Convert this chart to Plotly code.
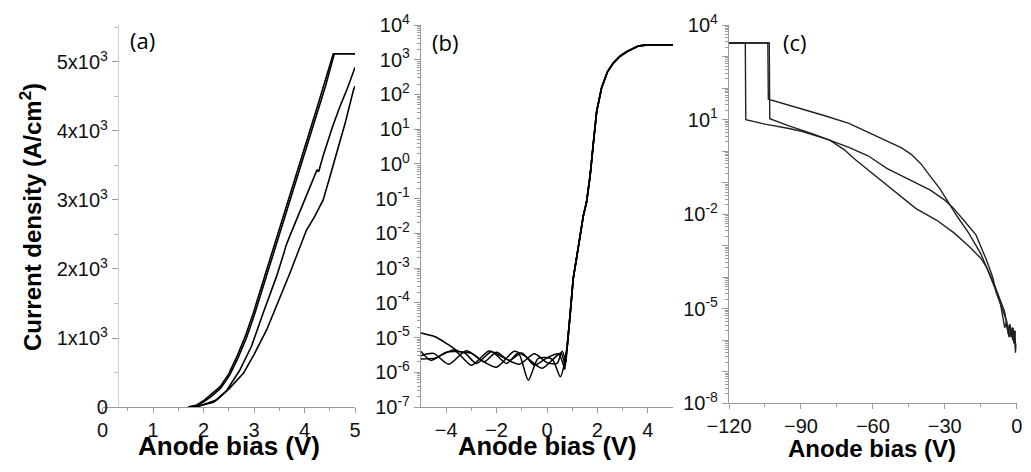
import plotly.graph_objects as go

# page is shown with the browser's default 8px body margin, so the figure is
# sized to fit inside the window and positions below are page pixels
PAGE_W, PAGE_H, BODY = 1031, 472, 8
W, H = PAGE_W - 2 * BODY, PAGE_H - 2 * BODY

# ---------------- Panel (a): linear J-V ----------------
a1_v = [1.7, 1.87, 2.0, 2.15, 2.33, 2.5, 2.66, 2.83, 2.99, 3.25, 3.45, 3.7, 3.91, 4.1, 4.24, 4.4, 4.57, 5.0]
a1_j = [0, 29, 90, 180, 294, 480, 729, 1030, 1370, 1986, 2450, 3040, 3540, 3990, 4320, 4700, 5120, 5120]
a2_v = [1.7, 1.88, 2.02, 2.18, 2.35, 2.52, 2.68, 2.85, 3.01, 3.27, 3.47, 3.72, 3.93, 4.12, 4.26, 4.42, 4.59, 5.0]
a2_j = [0, 25, 82, 170, 280, 465, 705, 1000, 1340, 1950, 2420, 3000, 3500, 3950, 4280, 4660, 5120, 5120]
a3_v = [1.7, 1.9, 2.2, 2.45, 2.72, 2.95, 3.18, 3.45, 3.6, 3.63, 3.71, 3.9, 4.11, 4.25, 4.28, 4.37, 4.55, 4.70, 4.85, 4.97, 5.0]
a3_j = [0, 15, 70, 230, 536, 880, 1358, 1900, 2250, 2330, 2480, 2820, 3180, 3440, 3410, 3640, 4050, 4352, 4620, 4884, 4920]
a4_v = [1.7, 1.9, 2.26, 2.5, 2.79, 3.0, 3.25, 3.5, 3.71, 3.9, 4.04, 4.2, 4.31, 4.37, 4.5, 4.64, 4.8, 4.97, 5.0]
a4_j = [0, 10, 100, 260, 488, 760, 1116, 1560, 1938, 2300, 2565, 2760, 2903, 3000, 3330, 3676, 4100, 4594, 4650]
a_ytick_vals = [0, 1000, 2000, 3000, 4000, 5000]
a_ytick_text = ["0", "1x10<sup>3</sup>", "2x10<sup>3</sup>", "3x10<sup>3</sup>", "4x10<sup>3</sup>", "5x10<sup>3</sup>"]

# ---------------- Panel (b): log J-V ----------------
bA_v = [-5, -4.44, -3.92, -3.5, -3.0, -2.5, -2.0, -1.5, -1.0, -0.5, 0.0, 0.45, 0.7]
bA_j = [1.35e-5, 1.05e-5, 6.3e-6, 4.0e-6, 3.5e-6, 2.0e-6, 3.8e-6, 2.2e-6, 3.6e-6, 1.6e-6, 2.6e-6, 3.4e-6, 1.2e-6]
bB_v = [-5, -4.6, -4.0, -3.3, -2.8, -2.2, -1.6, -1.14, -0.74, -0.35, 0.2, 0.53, 0.7]
bB_j = [4.0e-6, 2.2e-6, 3.8e-6, 3.7e-6, 1.8e-6, 3.9e-6, 1.8e-6, 3.6e-6, 5.9e-7, 2.5e-6, 2.4e-6, 7.4e-7, 2.0e-6]
bC_v = [-5, -4.5, -3.9, -3.2, -2.5, -2.0, -1.3, -0.9, -0.2, 0.3, 0.55, 0.72]
bC_j = [3.0e-6, 3.5e-6, 1.7e-6, 4.2e-6, 2.0e-6, 1.4e-6, 4.0e-6, 3.0e-6, 1.3e-6, 2.6e-6, 3.6e-6, 1.5e-6]
bD_v = [-5, -4.4, -3.7, -3.0, -2.3, -1.7, -1.1, -0.5, 0.0, 0.4, 0.6, 0.75]
bD_j = [2.4e-6, 2.6e-6, 4.4e-6, 1.6e-6, 4.1e-6, 2.6e-6, 1.7e-6, 3.4e-6, 1.9e-6, 1.8e-6, 4.0e-6, 2.0e-6]
b_rise_v = [0.8, 0.85, 0.95, 1.04, 1.18, 1.3, 1.44, 1.57, 1.71, 1.84, 1.97, 2.17, 2.4, 2.63, 2.9, 3.16, 3.4, 3.62, 3.9, 5.0]
b_rise_j = [5e-6, 1.3e-5, 8e-5, 5e-4, 2.1e-3, 8e-3, 3.2e-2, 8e-2, 0.45, 4, 32, 160, 450, 800, 1260, 1700, 2140, 2500, 2630, 2630]
b_decades = list(range(-7, 5))

# ---------------- Panel (c): reverse bias ----------------
cA_v = [-120, -103.8, -103.6, -90, -80, -70, -62, -55, -48, -44, -40, -36, -32, -29, -25, -20, -15, -12.6, -10, -7, -5.8,
        -5.0, -4.2, -3.5, -2.8, -2.0, -1.5, -1.0, -0.6]
cA_j = [2.7e3, 2.7e3, 44, 22.4, 13.2, 7.6, 4.0, 2.24, 1.26, 0.79, 0.40, 0.158, 0.063, 0.0275, 8.9e-3, 2.5e-3, 5.6e-4, 2.1e-4, 6.3e-5, 1.8e-5, 5.5e-6,
        2.5e-6, 4.0e-6, 1.6e-6, 3.2e-6, 1.26e-6, 2.5e-6, 1.0e-6, 2.0e-6]
cB_v = [-120, -103.2, -103, -95, -85, -78, -70, -62, -54, -45, -36, -30, -26.5, -22, -17, -12.6, -10, -8.5, -6, -4.3,
        -3.8, -3.0, -2.4, -1.8, -1.2, -0.8, -0.4]
cB_j = [2.7e3, 2.7e3, 10.7, 6.3, 3.5, 2.24, 1.32, 0.71, 0.28, 0.126, 0.0575, 0.028, 0.0158, 6.3e-3, 2.2e-3, 3.5e-4, 1.0e-4, 3.2e-5, 1.0e-5, 4.3e-6,
        2.0e-6, 3.2e-6, 1.26e-6, 2.5e-6, 7.9e-7, 2.0e-6, 5.0e-7]
cC_v = [-120, -113.2, -113, -105, -95, -89, -78, -72, -67, -60, -50, -42, -33.5, -26, -19.6, -15, -12.6, -10, -7, -5,
        -4.2, -3.2, -2.5, -1.6, -1.0, -0.5, -0.3]
cC_j = [2.7e3, 2.7e3, 10, 7.2, 5.2, 4.1, 2.24, 1.12, 0.51, 0.19, 0.046, 0.015, 6.5e-3, 2.5e-3, 9.1e-4, 4.0e-4, 2.1e-4, 7.9e-5, 2.0e-5, 7.9e-6,
        3.2e-6, 1.26e-6, 2.5e-6, 1.0e-6, 1.6e-6, 4.0e-7, 7.9e-7]
c_decades = list(range(-8, 5))
c_labeled = [-8, -5, -2, 1, 4]
c_xticks = [-120, -90, -60, -30, 0]


def fx(p):
    return (p - BODY) / W


def fy(p):
    return 1 - (p - BODY) / H


LINE = dict(color="black", width=1.6)
fig = go.Figure()

for v, j in [(a1_v, a1_j), (a2_v, a2_j), (a3_v, a3_j), (a4_v, a4_j)]:
    fig.add_trace(go.Scatter(x=v, y=j, mode="lines", line=LINE, xaxis="x", yaxis="y", showlegend=False))

for v, j in [(bA_v, bA_j), (bB_v, bB_j), (bC_v, bC_j), (bD_v, bD_j)]:
    fig.add_trace(go.Scatter(x=v, y=j, mode="lines", line=dict(color="black", width=1.5, shape="spline", smoothing=0.7),
                             xaxis="x2", yaxis="y2", showlegend=False))
    fig.add_trace(go.Scatter(x=v[-1:] + b_rise_v, y=j[-1:] + b_rise_j, mode="lines", line=LINE,
                             xaxis="x2", yaxis="y2", showlegend=False))

for v, j in [(cA_v, cA_j), (cB_v, cB_j), (cC_v, cC_j)]:
    fig.add_trace(go.Scatter(x=v, y=j, mode="lines", line=dict(color="#222", width=1.4),
                             xaxis="x3", yaxis="y3", showlegend=False))

TF = dict(family="Liberation Sans, Arial, sans-serif", size=20, color="#111")
AX = "#9a9a9a"
common_x = dict(showline=True, linecolor=AX, linewidth=1.2, ticks="outside", tickcolor=AX, ticklen=5,
                tickwidth=1.2, showgrid=False, zeroline=False, tickfont=TF, automargin=False)
common_y = dict(showline=True, linecolor=AX, linewidth=1.2, ticks="outside", tickcolor=AX, ticklen=6,
                tickwidth=1.2, showgrid=False, zeroline=False, tickfont=TF, automargin=False)

yd_ab = [fy(407), fy(25)]
yd_c = [fy(403.3), fy(25)]

minor_b = [m * 10.0 ** k for k in range(-7, 4) for m in range(2, 10)]
minor_c = [m * 10.0 ** k for k in range(-8, 4) for m in range(2, 10)]

fig.update_layout(
    width=W, height=H, margin=dict(l=0, r=0, t=0, b=0, pad=0, autoexpand=False),
    paper_bgcolor="white", plot_bgcolor="white",
    xaxis=dict(common_x, domain=[fx(102.5), fx(355)], range=[0, 5], anchor="y",
               tickmode="array", tickvals=[0, 1, 2, 3, 4, 5],
               minor=dict(ticks="outside", ticklen=3, tickcolor=AX, dtick=0.5, tick0=0)),
    yaxis=dict(common_y, domain=yd_ab, range=[0, 5536], anchor="free", position=fx(118),
               linecolor="#d0d0d0", tickmode="array", tickvals=a_ytick_vals, ticktext=a_ytick_text,
               minor=dict(ticks="outside", ticklen=4, tickcolor="#bbb", dtick=500, tick0=0)),
    xaxis2=dict(common_x, domain=[fx(421), fx(673)], range=[-5, 5], anchor="y2",
                tickmode="array", tickvals=[-4, -2, 0, 2, 4],
                minor=dict(ticks="outside", ticklen=3, tickcolor=AX, tickvals=[-3, -1, 1, 3])),
    yaxis2=dict(common_y, domain=yd_ab, type="log", range=[-7, 4], anchor="x2",
                tickmode="array", tickvals=[10.0 ** k for k in b_decades],
                ticktext=["10<sup>%d</sup>" % k for k in b_decades],
                minor=dict(ticks="outside", ticklen=3, tickcolor=AX, tickvals=minor_b)),
    xaxis3=dict(common_x, domain=[fx(729), fx(1016.7)], range=[-120, 0], anchor="y3",
                tickmode="array", tickvals=c_xticks,
                minor=dict(ticks="outside", ticklen=3, tickcolor=AX, tickvals=[-105, -75, -45, -15])),
    yaxis3=dict(common_y, domain=yd_c, type="log", range=[-8, 4], anchor="x3",
                tickmode="array", tickvals=[10.0 ** k for k in c_decades],
                ticktext=[("10<sup>%d</sup>" % k) if k in c_labeled else "" for k in c_decades],
                minor=dict(ticks="outside", ticklen=3, tickcolor=AX, tickvals=minor_c)),
)

TITLE = dict(family="Liberation Sans, Arial, sans-serif", size=25, color="black")
ann = []
for xc, yc, size in [(229, 446, 26), (547, 446, 25.5), (872, 448, 24)]:
    ann.append(dict(text="<b>Anode bias (V)</b>", x=fx(xc), y=fy(yc), xref="paper", yref="paper",
                    xanchor="center", yanchor="middle", showarrow=False, font=dict(TITLE, size=size)))
ann.append(dict(text="<b>Current density (A/cm<sup>2</sup>)</b>", x=fx(31), y=fy(217), xref="paper", yref="paper",
                xanchor="center", yanchor="middle", showarrow=False, textangle=-90, font=dict(TITLE, size=24)))
for lab, xc, yc in [("(a)", 142, 40), ("(b)", 445, 42), ("(c)", 795, 42)]:
    ann.append(dict(text=lab, x=fx(xc), y=fy(yc), xref="paper", yref="paper", xanchor="center", yanchor="middle",
                    showarrow=False, font=dict(family="Open Sans, sans-serif", size=22, color="black")))
fig.update_layout(annotations=ann)

fig.write_html("out.html")
